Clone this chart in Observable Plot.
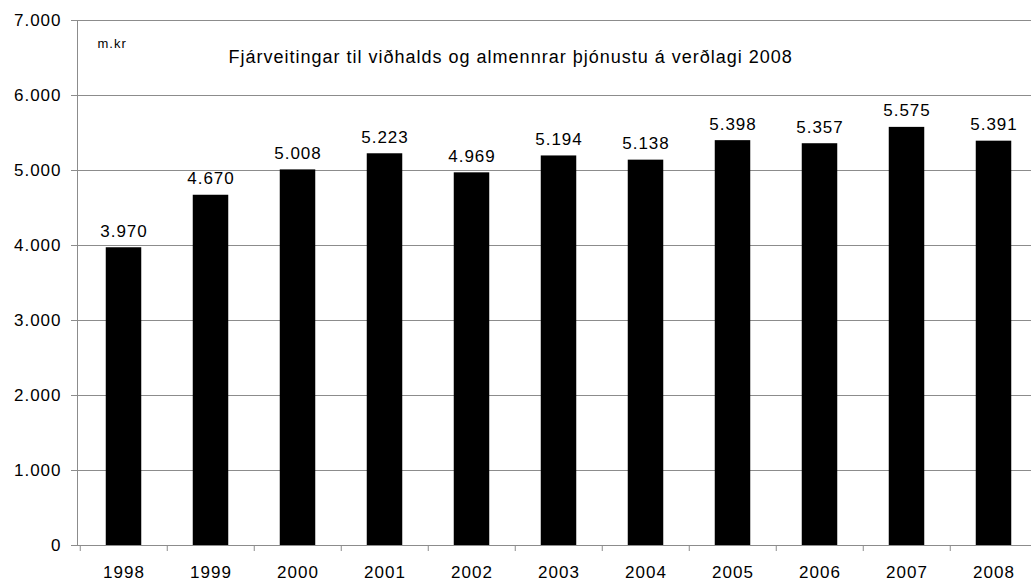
<!DOCTYPE html>
<html>
<head>
<meta charset="utf-8">
<script src="https://cdn.jsdelivr.net/npm/d3@7"></script>
<script src="https://cdn.jsdelivr.net/npm/@observablehq/plot@0.6"></script>
<style>
  html, body { margin: 0; padding: 0; background: #fff; overflow: hidden; }
  #chart { width: 1031px; height: 582px; overflow: hidden; }
</style>
</head>
<body>
<div id="chart"></div>
<script>
const years = ["1998","1999","2000","2001","2002","2003","2004","2005","2006","2007","2008"];
const values = [3970, 4670, 5008, 5223, 4969, 5194, 5138, 5398, 5357, 5575, 5391];
const yTicks = [0, 1000, 2000, 3000, 4000, 5000, 6000, 7000];
const titleText = "Fjárveitingar til viðhalds og almennrar þjónustu á verðlagi 2008";
const unitText = "m.kr";

const data = years.map((y, i) => ({year: y, value: values[i]}));
const loc = d3.formatLocale({decimal: ",", thousands: ".", grouping: [3], currency: ["", ""]});
const fmt = loc.format(",d");

const W = 1031, H = 582;
const left = 77, right = 1039.5;
const bw = (right - left) / years.length;
const gray = "#8c8c8c";

const chart = Plot.plot({
  width: W,
  height: H,
  marginLeft: left,
  marginRight: 0,
  marginTop: 20,
  marginBottom: 37,
  style: {fontFamily: "'Liberation Sans', Arial, sans-serif", fontSize: "17px", color: "#000", background: "#fff", letterSpacing: "1px"},
  x: {domain: years, range: [left, right], padding: 0},
  y: {domain: [0, 7000]},
  marks: [
    Plot.gridY(yTicks, {stroke: gray, strokeOpacity: 1}),
    Plot.barY(data, {x: "year", y: "value", fill: "#000", insetLeft: (bw - 36) / 2, insetRight: (bw - 36) / 2}),
    Plot.ruleY([0], {stroke: gray}),
    Plot.frame({anchor: "left", stroke: gray}),
    Plot.axisY(yTicks, {tickFormat: fmt, tickSize: 6, tickPadding: 10, stroke: gray, fontSize: 17, fill: "#000", label: null}),
    Plot.axisX({tickSize: 6, text: null, dx: -bw / 2, stroke: gray, label: null}),
    Plot.axisX({tickSize: 0, tickPadding: 20, fontSize: 17, fill: "#000", label: null}),
    Plot.text(data, {x: "year", y: "value", text: d => fmt(d.value), dy: -11, fontSize: 17, fill: "#000", lineAnchor: "bottom"}),
    Plot.text([titleText], {frameAnchor: "top-left", dx: 151, dy: 37, textAnchor: "start", lineAnchor: "middle", fontSize: 18, fill: "#000"}),
    Plot.text([unitText], {frameAnchor: "top-left", dx: 20, dy: 23, textAnchor: "start", lineAnchor: "middle", fontSize: 13, fill: "#000"})
  ]
});
document.getElementById("chart").appendChild(chart);
</script>
</body>
</html>
